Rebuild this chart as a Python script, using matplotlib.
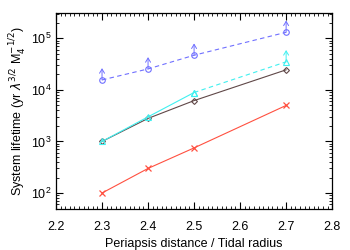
import numpy as np
import matplotlib.pyplot as plt

plt.rcParams['font.family'] = ['Liberation Sans', 'DejaVu Sans']

# ===================== Data =====================
x_red = [2.3, 2.4, 2.5, 2.7]
y_red = [100, 300, 750, 5000]

x_dia = [2.3, 2.4, 2.5, 2.7]
y_dia = [1000, 2800, 6200, 24500]

x_tri = [2.3, 2.4, 2.5, 2.7]
y_tri = [1000, 3000, 8900, 35000]

x_circ = [2.3, 2.4, 2.5, 2.7]
y_circ = [15600, 25500, 47000, 131000]

C_RED = "#ff5040"
C_DIA = "#604848"
C_TRI = "#40f0f0"
C_CIRC = "#7070ff"


def up_arrows(ax, xs, ys, color):
    """Lower-limit arrows: tail just above the marker, open head above."""
    for x, y in zip(xs, ys):
        ann = ax.annotate("", xy=(x, y), xytext=(x, y),
                          arrowprops=dict(arrowstyle="<-,head_length=0.5,head_width=0.3",
                                          color=color, lw=0.7, mutation_scale=6,
                                          shrinkA=2.5, shrinkB=0))
        ann.xyann = (0, 11)
        ann.set_anncoords("offset points")


fig = plt.figure(figsize=(3.5, 2.5), dpi=100)
ax = fig.add_axes([0.16, 0.164, 0.789, 0.784])

ax.plot(x_red, y_red, color=C_RED, lw=0.8, marker="x", ms=4, mew=0.9)
ax.plot(x_dia, y_dia, color=C_DIA, lw=0.8, marker="D", ms=3, mfc="none", mew=0.8)
# triangles: solid up to 2.5, dashed beyond
ax.plot(x_tri[:3], y_tri[:3], color=C_TRI, lw=0.8, marker="^", ms=4, mfc="none", mew=0.8)
ax.plot(x_tri[2:], y_tri[2:], color=C_TRI, lw=0.8, ls=(0, (4, 3)), marker="^", ms=4, mfc="none", mew=0.8)
ax.plot(x_circ, y_circ, color=C_CIRC, lw=0.8, ls=(0, (4, 3)), marker="o", ms=4, mfc="none", mew=0.8)

up_arrows(ax, x_tri[3:], y_tri[3:], C_TRI)
up_arrows(ax, x_circ, y_circ, C_CIRC)

ax.set_yscale("log")
ax.set_xlim(2.2, 2.8)
ax.set_ylim(49, 3.1e5)
ax.set_xticks([2.2, 2.3, 2.4, 2.5, 2.6, 2.7, 2.8])
ax.set_xticks(np.arange(2.2, 2.8001, 0.01), minor=True)
ax.set_xticklabels(["2.2", "2.3", "2.4", "2.5", "2.6", "2.7", "2.8"])
ax.tick_params(which="both", direction="in", top=True, right=True, labelsize=9)
ax.tick_params(which="major", length=5, width=0.8)
ax.tick_params(which="minor", length=2.5, width=0.6)
ax.tick_params(axis="x", pad=9)
for s in ax.spines.values():
    s.set_linewidth(0.9)

ax.set_xlabel("Periapsis distance / Tidal radius", fontsize=9, labelpad=3)
ax.set_ylabel(r"System lifetime (yr $\lambda^{3/2}$ M$_4^{-1/2}$)", fontsize=9, labelpad=2)

fig.savefig("out.png", dpi=100)
